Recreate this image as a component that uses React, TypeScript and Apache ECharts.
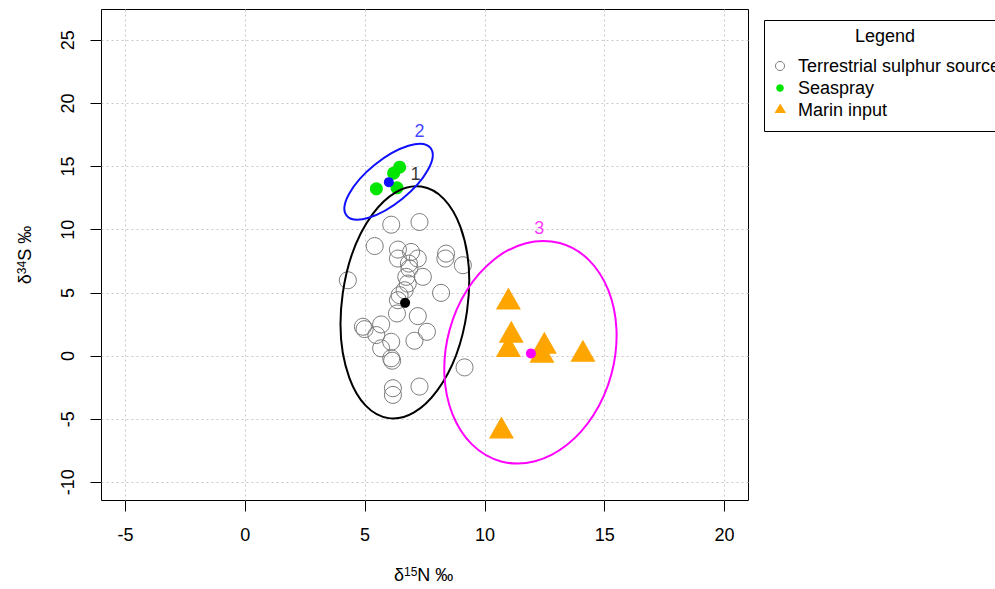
import React, { useEffect, useRef } from "react";
import * as echarts from "echarts";

const FONT = "'Liberation Sans', Arial, sans-serif";

const xTicks = [-5, 0, 5, 10, 15, 20];
const yTicks = [-10, -5, 0, 5, 10, 15, 20, 25];

const terrestrialN = [6.09, 7.27, 5.4, 6.37, 6.92, 8.38, 8.35, 6.37, 7.2, 6.83, 6.85, 9.08, 7.41, 6.72, 6.78, 4.28, 6.65, 8.17, 6.44, 6.37, 6.33, 7.2, 4.91, 4.98, 5.67, 5.47, 6.09, 7.58, 7.06, 5.67, 6.09, 6.13, 9.15, 6.16, 6.16, 7.27];
const terrestrialS = [10.4, 10.61, 8.71, 8.43, 8.24, 8.11, 7.72, 7.72, 7.72, 7.32, 6.93, 7.19, 6.27, 6.27, 5.74, 6.0, 5.21, 5.0, 4.82, 4.42, 3.37, 3.16, 2.32, 2.13, 2.5, 1.66, 1.13, 1.92, 1.21, 0.61, -0.18, -0.37, -0.9, -2.55, -3.08, -2.42];

const seasprayN = [6.44, 6.19, 5.47, 6.33];
const seasprayS = [14.95, 14.48, 13.24, 13.32];

const marinN = [10.98, 11.1, 10.98, 12.48, 12.38, 14.09, 10.69];
const marinS = [4.56, 1.92, 0.79, 1.05, 0.34, 0.42, -5.66];

const centroidN = [6.67, 5.99, 11.92];
const centroidS = [4.21, 13.77, 0.21];

const groupNames = ["1", "2", "3"];
const groupColors = ["#000000", "#1010ff", "#ff00ff"];
const ellipseCenterN = [6.66, 5.98, 11.9];
const ellipseCenterS = [4.25, 13.8, 0.3];
const ellipseRadiusN = [2.62, 2.25, 3.5];
const ellipseRadiusS = [9.26, 1.74, 8.95];
const ellipseRotationDeg = [-8, 39, -15];
const labelN = [7.1, 7.27, 12.27];
const labelS = [14.45, 17.8, 10.1];

const legendLabels = ["Terrestrial sulphur source", "Seaspray", "Marin input"];

export default function App() {
  const ref = useRef<HTMLDivElement>(null);

  useEffect(() => {
    if (!ref.current) return;
    const chart = echarts.init(ref.current, undefined, { renderer: "svg" });

    const zip = (a: number[], b: number[]) => a.map((v, i) => [v, b[i]]);

    const option: any = {
      animation: false,
      backgroundColor: "#ffffff",
      textStyle: { fontFamily: FONT },
      grid: {
        left: 101.5,
        top: 9.5,
        width: 647,
        height: 491,
        show: true,
        borderColor: "#000000",
        borderWidth: 1,
        backgroundColor: "transparent",
      },
      xAxis: {
        type: "value",
        min: -6,
        max: 21,
        splitNumber: 5,
        axisLine: { show: false, onZero: false },
        axisTick: {
          show: true,
          customValues: xTicks,
          length: 11,
          lineStyle: { color: "#000000", width: 1 },
        },
        axisLabel: {
          customValues: xTicks,
          fontSize: 18,
          color: "#000000",
          fontFamily: FONT,
          margin: 25,
        },
        splitLine: {
          show: true,
          lineStyle: { color: "#c8c8c8", type: [2, 3], width: 1 },
        },
      },
      yAxis: {
        type: "value",
        min: -11.44,
        max: 27.44,
        splitNumber: 8,
        axisLine: { show: false, onZero: false },
        axisTick: {
          show: true,
          customValues: yTicks,
          length: 11,
          lineStyle: { color: "#000000", width: 1 },
        },
        axisLabel: {
          customValues: yTicks,
          rotate: 90,
          fontSize: 18,
          color: "#000000",
          fontFamily: FONT,
          margin: 25,
        },
        splitLine: {
          show: true,
          lineStyle: { color: "#c8c8c8", type: [2, 3], width: 1 },
        },
      },
      series: [
        {
          name: "Terrestrial sulphur source",
          type: "scatter",
          symbol: "circle",
          symbolSize: 17,
          silent: true,
          itemStyle: { color: "rgba(0,0,0,0)", borderColor: "#7a7a7a", borderWidth: 1, opacity: 1 },
          data: zip(terrestrialN, terrestrialS),
          z: 2,
        },
        {
          name: "Seaspray",
          type: "scatter",
          symbol: "circle",
          symbolSize: 13,
          silent: true,
          itemStyle: { color: "#00e600", opacity: 1 },
          data: zip(seasprayN, seasprayS),
          z: 3,
        },
        {
          name: "Marin input",
          type: "scatter",
          symbol: "triangle",
          symbolSize: [25, 22],
          silent: true,
          itemStyle: { color: "#ffa500", opacity: 1 },
          data: zip(marinN, marinS),
          z: 3,
        },
        {
          name: "centroids",
          type: "scatter",
          symbol: "circle",
          symbolSize: 10,
          silent: true,
          data: centroidN.map((v, i) => ({
            value: [v, centroidS[i]],
            itemStyle: { color: groupColors[i], opacity: 1 },
          })),
          z: 4,
        },
        {
          name: "ellipses",
          type: "custom",
          silent: true,
          z: 5,
          data: ellipseCenterN.map((v, i) => [
            v,
            ellipseCenterS[i],
            ellipseRadiusN[i],
            ellipseRadiusS[i],
            ellipseRotationDeg[i],
          ]),
          renderItem: (params: any, api: any) => {
            const i = params.dataIndex;
            const c = api.coord([api.value(0), api.value(1)]);
            const s = api.size([api.value(2), api.value(3)]);
            return {
              type: "ellipse",
              x: c[0],
              y: c[1],
              rotation: (api.value(4) * Math.PI) / 180,
              shape: { cx: 0, cy: 0, rx: s[0], ry: s[1] },
              style: { fill: "none", stroke: groupColors[i], lineWidth: 2 },
            };
          },
        },
        {
          name: "group labels",
          type: "scatter",
          symbolSize: 0,
          silent: true,
          z: 6,
          data: labelN.map((v, i) => ({
            value: [v, labelS[i]],
            label: {
              show: true,
              position: "inside",
              formatter: groupNames[i],
              color: groupColors[i],
              fontSize: 18,
              fontFamily: FONT,
            },
          })),
        },
      ],
      graphic: [
        {
          type: "text",
          left: 425 - 31,
          top: 566,
          style: {
            text: "{n|δ}{s|15}{n|N ‰}",
            rich: {
              n: { fontSize: 18, fontFamily: FONT, fill: "#000" },
              s: { fontSize: 12, fontFamily: FONT, fill: "#000", verticalAlign: "top" },
            },
          },
        },
        {
          type: "text",
          x: 25,
          y: 255,
          rotation: Math.PI / 2,
          style: {
            text: "{n|δ}{s|34}{n|S ‰}",
            align: "center",
            verticalAlign: "middle",
            rich: {
              n: { fontSize: 18, fontFamily: FONT, fill: "#000" },
              s: { fontSize: 12, fontFamily: FONT, fill: "#000", verticalAlign: "top" },
            },
          },
        },
        {
          type: "rect",
          shape: { x: 764.5, y: 20.5, width: 260, height: 111 },
          style: { fill: "#ffffff", stroke: "#000000", lineWidth: 1 },
          z: 10,
        },
        {
          type: "text",
          x: 885,
          y: 36,
          z: 11,
          style: {
            text: "Legend",
            fontSize: 18,
            fontFamily: FONT,
            fill: "#000",
            align: "center",
            verticalAlign: "middle",
          },
        },
        {
          type: "circle",
          z: 11,
          shape: { cx: 780, cy: 66, r: 4.5 },
          style: { fill: "none", stroke: "#7a7a7a", lineWidth: 1 },
        },
        {
          type: "circle",
          z: 11,
          shape: { cx: 780, cy: 88, r: 3.8 },
          style: { fill: "#00e600" },
        },
        {
          type: "polygon",
          z: 11,
          shape: { points: [[774.5, 113], [786, 113], [780.25, 103.5]] },
          style: { fill: "#ffa500" },
        },
        ...legendLabels.map((t, i) => ({
          type: "text",
          x: 798,
          y: 66 + i * 22,
          z: 11,
          style: {
            text: t,
            fontSize: 18,
            fontFamily: FONT,
            fill: "#000",
            align: "left",
            verticalAlign: "middle",
          },
        })),
      ],
    };

    chart.setOption(option);
    return () => chart.dispose();
  }, []);

  return (
    <div
      ref={ref}
      style={{ position: "absolute", left: 0, top: 0, width: 995, height: 589 }}
    />
  );
}
